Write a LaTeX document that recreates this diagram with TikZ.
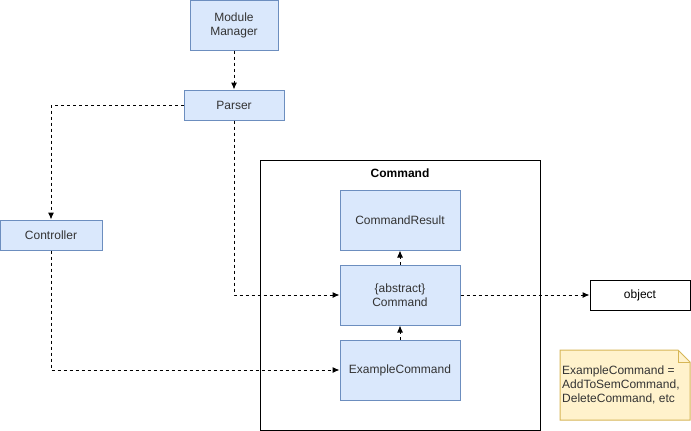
\documentclass[tikz,border=0pt]{standalone}
\usepackage{fontspec}
\setmainfont{Liberation Sans}
\usepackage{tikz}
\usetikzlibrary{arrows.meta,calc}
\definecolor{boxfill}{HTML}{DAE8FC}
\definecolor{boxline}{HTML}{6C8EBF}
\definecolor{notefill}{HTML}{FFF2CC}
\definecolor{noteline}{HTML}{D6B656}
\definecolor{textgray}{HTML}{333333}

\begin{document}
\begin{tikzpicture}
[x = 1pt, y = -1pt, font = \fontsize{12}{14}\selectfont]
\tikzset{
	class node/.style = {draw = boxline, fill = boxfill, line width = 1, align = center, text = textgray, minimum width = 120, minimum height = 60, inner sep = 0},
	small node/.style = {class node, minimum width = 100, minimum height = 30},
	dep/.style = {line width = 1, dash pattern = on 3 off 3, -{Latex[length = 7, width = 6]}},
}
\useasboundingbox (0,0) rectangle (691,431);

\node(mm)[class node, minimum width = 88, minimum height = 50] at (234,25) {Module\\Manager};
\node(parser)[small node] at (234,105) {Parser};
\node(ctrl)[small node, minimum width = 102] at (51,235) {Controller};

\node(frame)[draw, line width = 1, minimum width = 280, minimum height = 270] at (400,295) {};
\node(title) at (400,173) {\bfseries Command};
\node(result)[class node] at (400,220) {CommandResult};
\node(cmd)[class node] at (400,295) {\{abstract\}\\Command};
\node(example)[class node] at (400,370) {ExampleCommand};
\node(object)[small node, draw = black, fill = white, text = black] at (640,295) {object};

\draw [dep] (mm) -- (parser);
\draw [dep] (parser.west) -| (ctrl.north);
\draw [dep] (parser.south) |- (cmd.west);
\draw [dep] (ctrl.south) |- (example.west);
\draw [dep] (cmd) -- (result);
\draw [dep] (example) -- (cmd);
\draw [dep] (cmd) -- (object);

% note
\draw [draw = noteline, fill = notefill, line width = 1] (560,350) -- (678,350) -- (690,362) -- (690,420) -- (560,420) -- cycle;
\draw [draw = noteline, line width = 1] (678,350) -- (678,362) -- (690,362);
\node(note)[anchor = west, align = left, inner sep = 0, text = textgray] at (562,385) {ExampleCommand =\\AddToSemCommand,\\DeleteCommand, etc};

\end{tikzpicture}
\end{document}
